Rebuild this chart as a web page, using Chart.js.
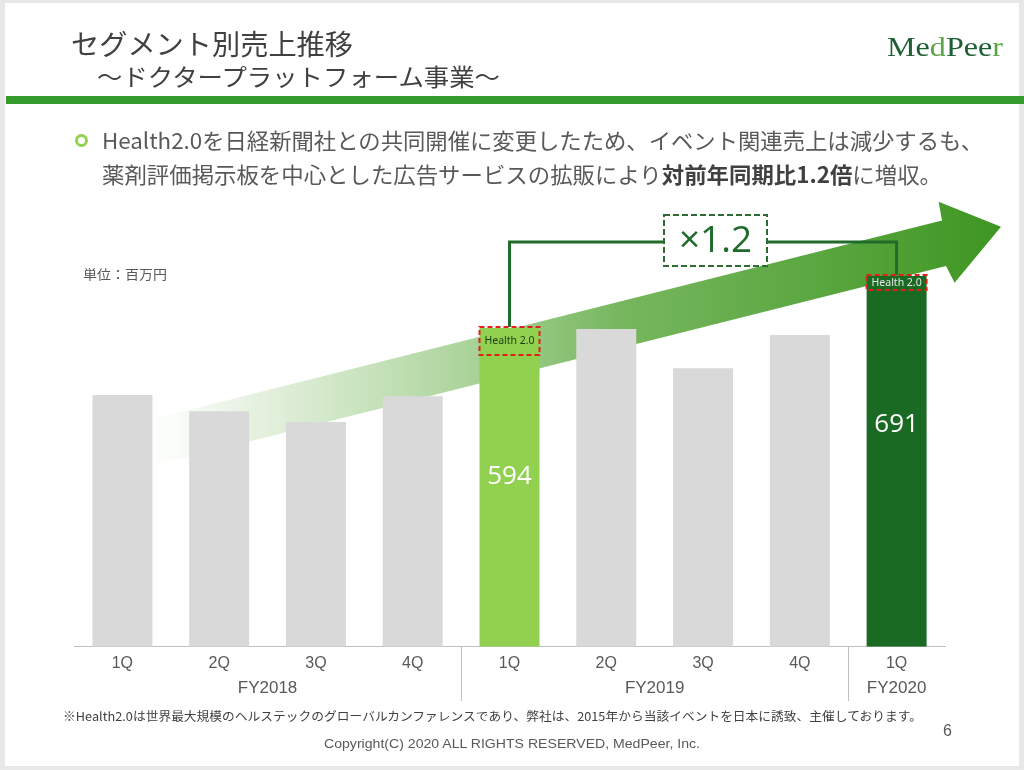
<!DOCTYPE html>
<html><head><meta charset="utf-8">
<script src="https://cdn.jsdelivr.net/npm/chart.js@4.4.1/dist/chart.umd.min.js"></script>
<style>
html,body{margin:0;padding:0;width:1024px;height:770px;overflow:hidden;background:#e8e8e8;}
#slide{position:absolute;left:5px;top:3px;width:1014px;height:763px;background:#fff;}
#c{position:absolute;left:0;top:0;z-index:1;}
.t{position:absolute;white-space:nowrap;transform-origin:0 50%;z-index:2;line-height:1;}
.jp{font-family:"Noto Sans CJK JP","Noto Sans",sans-serif;}
</style></head><body>
<div id="slide"></div>
<div style="position:absolute;left:6px;top:96px;width:1018px;height:8px;background:#349a2b;z-index:2"></div>
<div class="t jp" data-w="282" style="left:71px;top:29px;font-size:28px;color:#404040;">セグメント別売上推移</div>
<div class="t jp" data-w="403" style="left:97px;top:64px;font-size:24px;color:#404040;">～ドクタープラットフォーム事業～</div>
<div class="t" data-w="116" style="left:887px;top:33px;font-size:28px;font-family:'Liberation Serif',serif;color:#1f5f36;">Me<span style="color:#5aa544">d</span>Pee<span style="color:#5aa544">r</span></div>
<div style="position:absolute;left:75px;top:134px;width:7px;height:7px;border:3px solid #92d050;border-radius:50%;z-index:2"></div>
<div class="t jp" data-w="881" style="left:102px;top:128px;font-size:22px;color:#595959;">Health2.0を日経新聞社との共同開催に変更したため、イベント関連売上は減少するも、</div>
<div class="t jp" data-w="840" style="left:102px;top:162px;font-size:22px;color:#595959;">薬剤評価掲示板を中心とした広告サービスの拡販により<b style="color:#404040">対前年同期比1.2倍</b>に増収。</div>
<div class="t jp" data-w="84" style="left:83px;top:267px;font-size:13px;color:#595959;">単位：百万円</div>
<div class="t jp" data-w="859" style="left:63px;top:710px;font-size:12px;color:#404040;">※Health2.0は世界最大規模のヘルステックのグローバルカンファレンスであり、弊社は、2015年から当該イベントを日本に誘致、主催しております。</div>
<div class="t" style="left:943px;top:723px;font-size:16px;font-family:'Liberation Sans',sans-serif;color:#595959;">6</div>
<div class="t" data-w="376" style="left:324px;top:737px;font-size:13px;font-family:'Liberation Sans',sans-serif;color:#595959;">Copyright(C) 2020 ALL RIGHTS RESERVED, MedPeer, Inc.</div>
<canvas id="c" width="1024" height="770"></canvas>
<script>
// ---- data ----
const quarters = ["1Q","2Q","3Q","4Q","1Q","2Q","3Q","4Q","1Q"];
const fiscalYears = ["FY2018","FY2019","FY2020"];
const yearIndex = [0,0,0,0,1,1,1,1,2];
const sales = [469, 439, 419, 467, 594, 592, 519, 581, 691];
const labelledBars = [4, 8];
const eventTag = "Health 2.0";
const growthText = "×1.2";

document.querySelectorAll('.t[data-w]').forEach(el => {
  const w = el.getBoundingClientRect().width;
  const target = parseFloat(el.dataset.w);
  if (w > 0) el.style.transform = 'scaleX(' + (target / w) + ')';
});

const colorFor = i => i === 4 ? '#92d050' : (i === 8 ? '#1b6a23' : '#d9d9d9');

const arrowPlugin = {
  id: 'arrow',
  beforeDatasetsDraw(chart) {
    const ctx = chart.ctx;
    ctx.save();
    const g = ctx.createLinearGradient(150, 0, 1000, 0);
    g.addColorStop(0, 'rgba(120,185,90,0)');
    g.addColorStop(0.3, 'rgba(110,180,80,0.45)');
    g.addColorStop(0.55, 'rgba(85,165,55,0.8)');
    g.addColorStop(1, 'rgba(62,150,34,1)');
    ctx.fillStyle = g;
    ctx.beginPath();
    ctx.moveTo(150, 419.8);
    ctx.lineTo(942, 220.5);
    ctx.lineTo(938.6, 201.7);
    ctx.lineTo(1001, 226.7);
    ctx.lineTo(954.6, 282.7);
    ctx.lineTo(946, 266);
    ctx.lineTo(150, 466.4);
    ctx.closePath();
    ctx.fill();
    ctx.restore();
  }
};

const annotPlugin = {
  id: 'annot',
  afterDatasetsDraw(chart) {
    const ctx = chart.ctx;
    const meta = chart.getDatasetMeta(0);
    const a = meta.data[labelledBars[0]], b = meta.data[labelledBars[1]];
    ctx.save();
    // bracket
    const by = 242;
    ctx.strokeStyle = '#1f6b2a';
    ctx.lineWidth = 3;
    ctx.beginPath();
    ctx.moveTo(a.x, a.y - 1);
    ctx.lineTo(a.x, by);
    ctx.lineTo(b.x, by);
    ctx.lineTo(b.x, b.y - 1);
    ctx.stroke();
    // x1.2 box
    const bx = 664, bw = 103, btop = 215, bh = 51;
    ctx.fillStyle = '#fff';
    ctx.fillRect(bx, btop, bw, bh);
    ctx.setLineDash([6, 3]);
    ctx.lineWidth = 2;
    ctx.strokeStyle = '#2e6b30';
    ctx.strokeRect(bx, btop, bw, bh);
    ctx.setLineDash([]);
    ctx.fillStyle = '#1e6b2a';
    ctx.font = '37px "Open Sans", sans-serif';
    ctx.textAlign = 'center';
    ctx.textBaseline = 'middle';
    ctx.fillText(growthText, bx + bw / 2, btop + bh / 2 + 1);
    // event tag boxes
    const tags = [{el: a, h: 28, fg: '#1b3d12'}, {el: b, h: 15, fg: '#e6e6e6'}];
    tags.forEach(t => {
      const x = t.el.x - t.el.width / 2, y = t.el.y - 1, w = t.el.width;
      ctx.setLineDash([5, 3]);
      ctx.lineWidth = 2;
      ctx.strokeStyle = '#e0201c';
      ctx.strokeRect(x, y, w, t.h);
      ctx.setLineDash([]);
      ctx.fillStyle = t.fg;
      ctx.font = '10.5px "Noto Sans", sans-serif';
      ctx.fillText(eventTag, t.el.x, y + t.h / 2 + 0.5);
    });
    // value labels
    ctx.fillStyle = '#ffffff';
    ctx.font = '26px "Open Sans", sans-serif';
    labelledBars.forEach(i => {
      const el = meta.data[i];
      ctx.fillText(String(sales[i]), el.x, el.y + 149);
    });
    ctx.restore();
  },
  afterDraw(chart) {
    const ctx = chart.ctx;
    const meta = chart.getDatasetMeta(0);
    const area = chart.chartArea;
    ctx.save();
    ctx.strokeStyle = '#bfbfbf';
    ctx.lineWidth = 1;
    for (let i = 1; i < yearIndex.length; i++) {
      if (yearIndex[i] !== yearIndex[i - 1]) {
        const x = Math.round((meta.data[i - 1].x + meta.data[i].x) / 2) + 0.5;
        ctx.beginPath();
        ctx.moveTo(x, area.bottom);
        ctx.lineTo(x, 701);
        ctx.stroke();
      }
    }
    ctx.fillStyle = '#595959';
    ctx.font = '17px "Liberation Sans Narrow", "Liberation Sans", sans-serif';
    ctx.textAlign = 'center';
    ctx.textBaseline = 'middle';
    fiscalYears.forEach((fy, k) => {
      const idx = yearIndex.map((v, i) => v === k ? i : -1).filter(i => i >= 0);
      const x = (meta.data[idx[0]].x + meta.data[idx[idx.length - 1]].x) / 2;
      ctx.fillText(fy, x, 688);
    });
    ctx.restore();
  }
};

new Chart(document.getElementById('c'), {
  type: 'bar',
  data: {
    labels: quarters,
    datasets: [{
      data: sales,
      backgroundColor: sales.map((_, i) => colorFor(i)),
      barPercentage: 0.62,
      categoryPercentage: 1.0,
      borderWidth: 0
    }]
  },
  options: {
    responsive: false,
    devicePixelRatio: 1,
    animation: false,
    layout: {padding: {left: 74, right: 79, top: 201.4, bottom: 0}},
    plugins: {legend: {display: false}, tooltip: {enabled: false}},
    scales: {
      y: {display: false, min: 0, max: 830},
      x: {
        grid: {display: false, drawTicks: false},
        border: {display: true, color: '#bfbfbf', width: 1},
        ticks: {
          color: '#595959',
          padding: 7,
          maxRotation: 0,
          autoSkip: false,
          font: {family: '"Liberation Sans Narrow", "Liberation Sans", sans-serif', size: 16}
        },
        afterFit(scale) { scale.height = 770 - 646.7; }
      }
    }
  },
  plugins: [arrowPlugin, annotPlugin]
});
</script>
</body></html>
